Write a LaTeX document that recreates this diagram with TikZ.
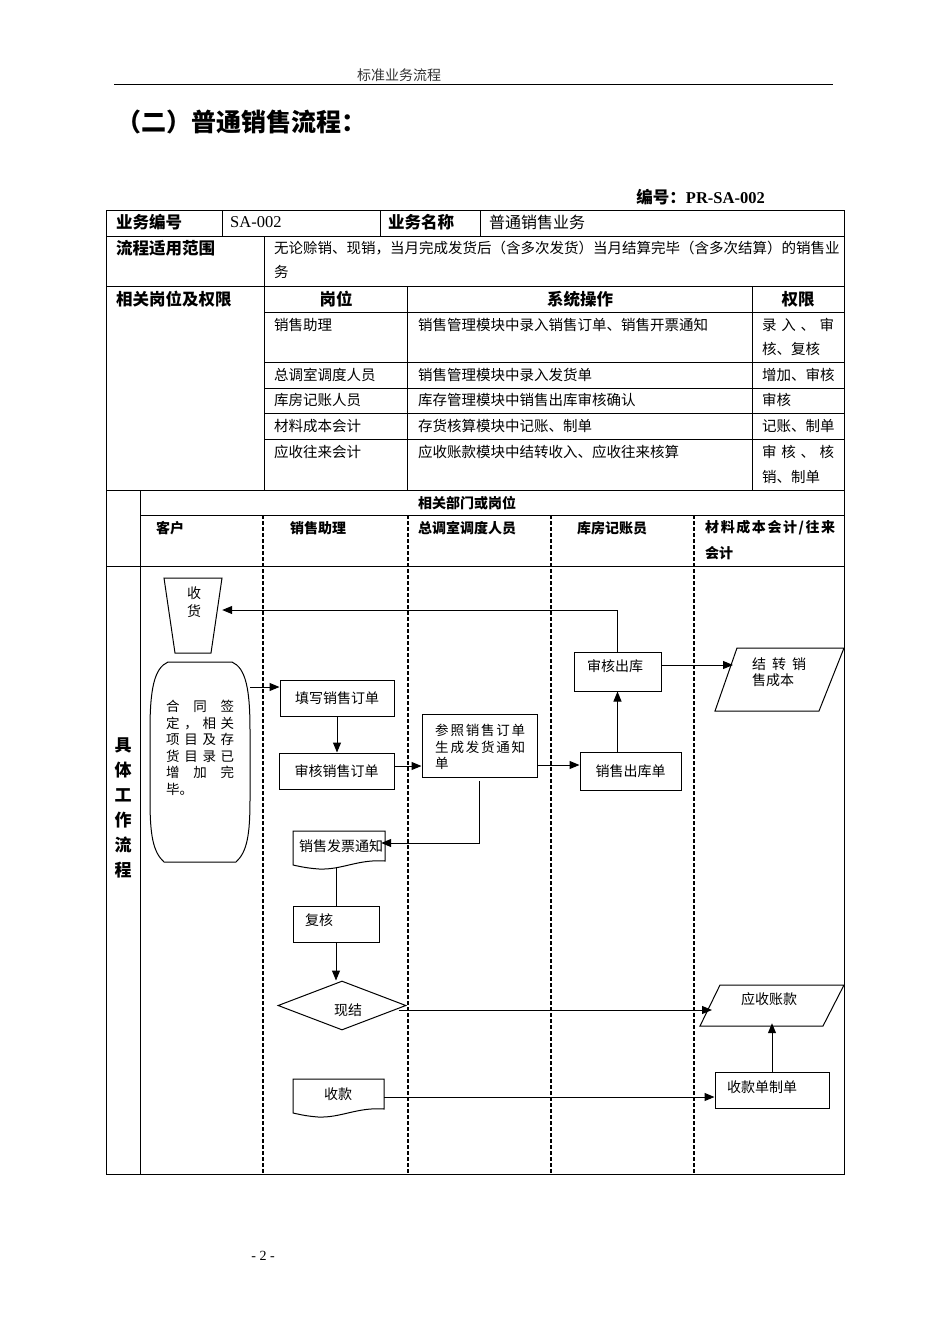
\documentclass[tikz,border=0pt]{standalone}
\usepackage{fontspec}
\setmainfont{Noto Sans CJK SC}
\newfontfamily\latf{Liberation Serif}
\usetikzlibrary{arrows.meta,shapes.geometric}
\newcommand\myfs[1]{\fontsize{#1pt}{#1pt}\selectfont}
\def\spreadchars#1{\spreadA#1\relax\relax}
\def\spreadA#1#2{#1\ifx\relax#2\else\hfill\expandafter\spreadA\expandafter#2\fi}
\newcommand\jline[2]{\makebox[#1][s]{\spreadchars{#2}}}
\tikzset{
 tline/.style={line width=0.8pt},
 lane/.style={line width=1.1pt, dash pattern=on 4pt off 2pt},
 fl/.style={line width=1pt},
 arr/.style={line width=1pt, -{Triangle[length=10pt,width=8pt]}},
 box/.style={draw, line width=1pt, inner sep=0pt},
 ghost/.style={inner sep=0pt, draw=none},
 tw/.style={inner sep=0pt, anchor=west},
 tc/.style={inner sep=0pt, anchor=center},
 bodyf/.style={font=\myfs{14.5}},
 headf/.style={font=\myfs{16.5}\bfseries},
 lanef/.style={font=\myfs{14}\bfseries},
 flf/.style={font=\myfs{14}},
}
\begin{document}
\begin{tikzpicture}[x=1pt,y=-1pt]
\useasboundingbox (0,0) rectangle (950,1344);
% page header
\node[tc, font=\myfs{14}, text=black!80] (hdr) at (399,75) {标准业务流程};
\draw[line width=1pt] (114,84) -- (833,84);
\node[tw, font=\myfs{25}\bfseries] (title) at (116,122) {（二）普通销售流程：};
\node[anchor=east, inner sep=0pt] (code) at (765,197) {{\myfs{16.5}\bfseries 编号：}{\latf\myfs{16.5}\bfseries PR-SA-002}};
% table frame
\draw[tline] (106,210) rectangle (844,1174);
\draw[tline] (106,236) -- (844,236);
\draw[tline] (222,210) -- (222,236) (380,210) -- (380,236) (480,210) -- (480,236);
\draw[tline] (264,236) -- (264,490);
\draw[tline] (106,286) -- (844,286);
\draw[tline] (407,286) -- (407,490) (752,286) -- (752,490);
\foreach \yy in {312,362,388,413,439} \draw[tline] (264,\yy) -- (844,\yy);
\draw[tline] (106,490) -- (844,490);
\draw[tline] (140,490) -- (140,1174);
\draw[tline] (140,515) -- (844,515);
\draw[tline] (106,566) -- (844,566);
\foreach \xx in {263,408,551,694} \draw[lane] (\xx,515) -- (\xx,1174);
% row 1
\node[tw, headf] (r1a) at (116,222) {业务编号};
\node[tw, font=\latf\myfs{16.5}] (r1b) at (230,222) {SA-002};
\node[tw, headf] (r1c) at (388,222) {业务名称};
\node[tw, font=\myfs{16}] (r1d) at (489,222) {普通销售业务};
% row 2
\node[tw, headf] (r2a) at (116,248) {流程适用范围};
\node[tw, bodyf] (r2b) at (274,248) {\jline{560pt}{无论赊销、现销，当月完成发货后（含多次发货）当月结算完毕（含多次结算）的销售业}};
\node[tw, bodyf] (r2c) at (274,272) {务};
% row 3
\node[tw, headf] (r3a) at (116,299) {相关岗位及权限};
\node[tc, headf] (h1) at (336,299) {岗位};
\node[tc, headf] (h2) at (580,299) {系统操作};
\node[tc, headf] (h3) at (798,299) {权限};
\node[tw, bodyf] (p1) at (274,325) {销售助理};
\node[tw, bodyf] (o1) at (418,325) {销售管理模块中录入销售订单、销售开票通知};
\node[tw, bodyf] (q1) at (762,325) {\jline{72pt}{录入、审}};
\node[tw, bodyf] (q1b) at (762,349) {核、复核};
\node[tw, bodyf] (p2) at (274,375) {总调室调度人员};
\node[tw, bodyf] (o2) at (418,375) {销售管理模块中录入发货单};
\node[tw, bodyf] (q2) at (762,375) {增加、审核};
\node[tw, bodyf] (p3) at (274,400) {库房记账人员};
\node[tw, bodyf] (o3) at (418,400) {库存管理模块中销售出库审核确认};
\node[tw, bodyf] (q3) at (762,400) {审核};
\node[tw, bodyf] (p4) at (274,426) {材料成本会计};
\node[tw, bodyf] (o4) at (418,426) {存货核算模块中记账、制单};
\node[tw, bodyf] (q4) at (762,426) {记账、制单};
\node[tw, bodyf] (p5) at (274,452) {应收往来会计};
\node[tw, bodyf] (o5) at (418,452) {应收账款模块中结转收入、应收往来核算};
\node[tw, bodyf] (q5) at (762,452) {\jline{72pt}{审核、核}};
\node[tw, bodyf] (q5b) at (762,477) {销、制单};
% lane headers
\node[tc, lanef] (dept) at (467,503) {相关部门或岗位};
\node[tw, lanef] (l1) at (156,528) {客户};
\node[tw, lanef] (l2) at (290,528) {销售助理};
\node[tw, lanef] (l3) at (418,528) {总调室调度人员};
\node[tw, lanef] (l4) at (577,528) {库房记账员};
\node[tw, lanef] (l5) at (705,528) {\jline{130pt}{材料成本会计/往来}};
\node[tw, lanef] (l5b) at (705,553) {会计};
% left vertical label
\foreach \c/\yy in {具/745,体/770,工/795,作/820,流/845,程/870}
  \node[tc, font=\myfs{17}\bfseries] at (123,\yy) {\c};
% customer: receive goods (trapezoid)
\draw[fl] (164,578) -- (222,578) -- (211,653) -- (175,653) -- cycle;
\node[ghost, minimum width=58pt, minimum height=64pt] (sh) at (193,610) {};
\node[tc, flf] (sht1) at (194,593) {收};
\node[tc, flf] (sht2) at (194,611) {货};
% customer: contract
\draw[fl] (172,662) -- (232,662) .. controls (246,668) and (250,690) .. (250,730)
  -- (250,800) .. controls (250,835) and (247,852) .. (236,862) -- (164,862)
  .. controls (153,852) and (150,835) .. (150,800) -- (150,730)
  .. controls (150,690) and (154,668) .. (168,662) -- cycle;
\node[ghost, minimum width=100pt, minimum height=200pt] (ht) at (200,762) {};
\node[tw, font=\myfs{13.5}] at (166,706) {\jline{68pt}{合同签}};
\node[tw, font=\myfs{13.5}] at (166,723) {\jline{68pt}{定，相关}};
\node[tw, font=\myfs{13.5}] at (166,739) {\jline{68pt}{项目及存}};
\node[tw, font=\myfs{13.5}] at (166,756) {\jline{68pt}{货目录已}};
\node[tw, font=\myfs{13.5}] at (166,772) {\jline{68pt}{增加完}};
\node[tw, font=\myfs{13.5}] at (166,789) {毕。};
% sales assistant boxes
\node[box, flf, minimum width=114pt, minimum height=36pt] (tx) at (337,698) {填写销售订单};
\node[box, flf, minimum width=115pt, minimum height=36pt] (sx) at (336.5,771) {审核销售订单};
% dispatch: reference order
\node[box, minimum width=115pt, minimum height=63pt] (cz) at (479.5,746) {};
\node[tw, font=\myfs{13.5}] at (435,730) {\jline{90pt}{参照销售订单}};
\node[tw, font=\myfs{13.5}] at (435,747) {\jline{90pt}{生成发货通知}};
\node[tw, font=\myfs{13.5}] at (435,763) {单};
% warehouse
\node[box, flf, minimum width=101pt, minimum height=38pt] (xk) at (630.5,771) {销售出库单};
\node[box, minimum width=87pt, minimum height=39pt] (ck) at (617.5,671.5) {};
\node[tc, flf] at (615,666) {审核出库};
% cost transfer parallelogram
\draw[fl] (737,648) -- (844,648) -- (819,711) -- (715,711) -- cycle;
\node[ghost, minimum width=129pt, minimum height=63pt] (jz) at (779.5,679.5) {};
\coordinate (jzin) at (733,665);
\node[tw, flf] at (752,664) {\jline{54pt}{结转销}};
\node[tw, flf] at (752,680) {售成本};
% invoice notice document
\draw[fl] (293,831) -- (385,831) -- (385,861) .. controls (358,859) and (342,870) .. (319,869)
  .. controls (305,868) and (298,866) .. (293,865) -- cycle;
\node[ghost, minimum width=92pt, minimum height=34pt] (fp) at (339,848) {};
\node[tc, flf] at (341,846) {销售发票通知};
% review
\node[box, minimum width=86pt, minimum height=36pt] (fh) at (336,924) {};
\node[tw, flf] at (305,920) {复核};
% cash settlement diamond
\node[draw, diamond, line width=1pt, minimum width=128pt, minimum height=49pt, inner sep=0pt] (xj) at (342,1005.5) {};
\node[tc, flf] at (348,1010) {现结};
% receivable parallelogram
\draw[fl] (720,985) -- (844,985) -- (823,1026) -- (700,1026) -- cycle;
\node[ghost, minimum width=144pt, minimum height=41pt] (ys) at (772,1005.5) {};
\coordinate (ysin) at (712,1010);
\node[tc, flf] at (769,999) {应收账款};
% receipt document
\draw[fl] (293,1079) -- (384,1079) -- (384,1109) .. controls (357,1107) and (341,1118) .. (318,1117)
  .. controls (305,1116) and (298,1114) .. (293,1113) -- cycle;
\node[ghost, minimum width=91pt, minimum height=34pt] (sk) at (338.5,1097) {};
\node[tc, flf] at (338,1094) {收款};
% receipt voucher
\node[box, minimum width=114pt, minimum height=36pt] (sd) at (772,1090) {};
\node[tw, flf] at (727,1087) {收款单制单};
% connectors
\draw[arr] (ck.north) |- (sh.east);
\draw[arr] ([yshift=75pt]ht.east) -- ([yshift=75pt]ht.east -| tx.west);
\draw[arr] (tx.south) -- (tx.south |- sx.north);
\draw[arr] ([yshift=5pt]sx.east) -- ([yshift=5pt]sx.east -| cz.west);
\draw[arr] ([yshift=6pt]xk.west -| cz.east) -- ([yshift=6pt]xk.west);
\draw[arr] (ck.south |- xk.north) -- (ck.south);
\draw[arr] ([yshift=6.5pt]ck.east) -- (jzin);
\draw[arr] ([yshift=-3pt]cz.south) |- ([xshift=-4pt,yshift=5pt]fp.east);
\draw[fl] (fh.north |- 0,868) -- (fh.north);
\draw[arr] (fh.south) -- (fh.south |- xj.north);
\draw[arr] ([xshift=-8pt,yshift=-4.5pt]xj.east) -- (ysin);
\draw[arr] (sk.east) -- (sk.east -| sd.west);
\draw[arr] (sd.north) -- ([yshift=3pt]ys.south);
% page number
\node[tc, font=\latf\myfs{14}] (pg) at (263,1256) {- 2 -};
\end{tikzpicture}
\end{document}
